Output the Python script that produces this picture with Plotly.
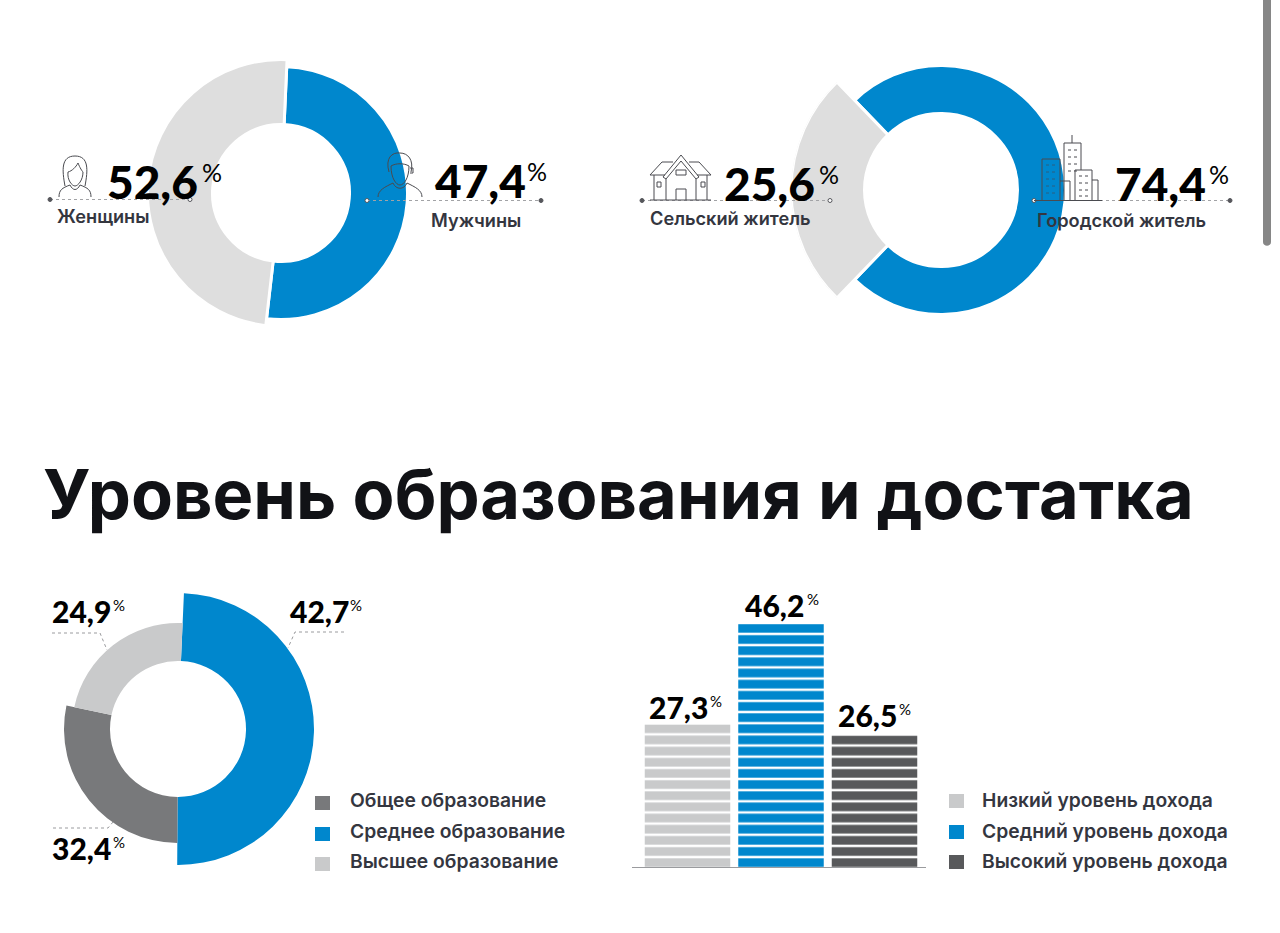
import plotly.graph_objects as go

W, H = 1280, 933
BLUE = "#0087CD"
GREY = "#DEDEDE"
LIGHT = "#C9CACB"
MID = "#78797B"
DARK = "#58595B"
INK = "#34363F"
NUM_FONT = "Lato"

# ---------- data ----------
title_text = "Уровень образования и достатка"

gender_names = ["Мужчины", "Женщины"]
gender_labels = [47.4, 52.6]
gender_arc_share = [51.1, 48.9]
gender_outer = [126.5, 133.5]
gender_inner = [68.5, 68.5]

place_names = ["Городской житель", "Сельский житель"]
place_values = [74.4, 25.6]
place_outer = [124.5, 150]
place_inner = [76.5, 76.5]

edu_names = ["Среднее образование", "Общее образование", "Высшее образование"]
edu_labels = [42.7, 32.4, 24.9]
edu_arc_share = [49.4, 28.2, 22.4]
edu_outer = [136, 114, 106]
edu_inner = [68, 68, 68]

income_names = ["Низкий уровень дохода", "Средний уровень дохода", "Высокий уровень дохода"]
income_labels = [27.3, 46.2, 26.5]
income_drawn = [27.1, 46.2, 25.0]


def fmt(v):
    return f"{v:.1f}".replace(".", ",")


def centres(shares, start):
    out, widths, a = [], [], start
    for s in shares:
        w = s * 3.6
        out.append(a + w / 2)
        widths.append(w)
        a += w
    return out, widths


fig = go.Figure()
# empty trace that brings the pixel-coordinate overlay axes into being
fig.add_trace(go.Scatter(x=[], y=[], xaxis="x2", yaxis="y2", showlegend=False))


def donut(key, outer, inner, shares, start, colors, names, gap):
    th, wd = centres(shares, start)
    fig.add_trace(go.Barpolar(
        subplot=key,
        r=[o - i for o, i in zip(outer, inner)],
        base=inner,
        theta=th,
        width=wd,
        text=names,
        showlegend=False,
        marker=dict(color=colors, line=dict(color="white", width=gap)),
    ))


donut("polar", gender_outer, gender_inner, gender_arc_share, 2.6, [BLUE, GREY], gender_names, 3)
donut("polar2", place_outer, place_inner, place_values, 90 - place_values[0] * 1.8, [BLUE, GREY], place_names, 3)
donut("polar3", edu_outer, edu_inner, edu_arc_share, 2.5, [BLUE, MID, LIGHT], edu_names, 0)

fig.add_trace(go.Bar(
    x=[0, 1, 2],
    y=income_drawn,
    width=85.5 / 93.5,
    text=income_names,
    textposition="none",
    showlegend=False,
    marker=dict(
        color=[LIGHT, BLUE, DARK],
        line=dict(width=0),
        pattern=dict(shape="-", size=11.157, solidity=0.78, fgcolor=[LIGHT, BLUE, DARK],
                     bgcolor="white", fillmode="replace"),
    ),
))


def polar_layout(cx, cy, R=150):
    return dict(
        domain=dict(x=[(cx - R) / W, (cx + R) / W], y=[1 - (cy + R) / H, 1 - (cy - R) / H]),
        bgcolor="rgba(0,0,0,0)",
        angularaxis=dict(visible=False, direction="clockwise", rotation=90),
        radialaxis=dict(visible=False, range=[0, R]),
    )


annotations = []
shapes = []


def text(x, y, s, size, color="#000000", weight=400, family="Inter", anchor="left"):
    annotations.append(dict(
        x=x, y=y, xref="x2", yref="y2", text=s, showarrow=False, xanchor=anchor, yanchor="middle",
        borderpad=0, font=dict(size=size, color=color, family=family, weight=weight, shadow="none"),
    ))


def path(d, color="#4A4B50", width=1, fill=None, dash=None):
    shapes.append(dict(
        type="path", xref="x2", yref="y2", path=d, layer="above",
        line=dict(color=color, width=width, dash=dash) if width else dict(width=0),
        fillcolor=fill if fill else "rgba(0,0,0,0)",
    ))


def dot(x, y, r, filled=True):
    shapes.append(dict(
        type="circle", xref="x2", yref="y2", x0=x - r, x1=x + r, y0=y - r, y1=y + r, layer="above",
        line=dict(color="#55565B", width=1), fillcolor="#55565B" if filled else "white",
    ))


def big(x, y, v, pct_x, size=46, pct_size=25):
    text(x, y, fmt(v), size, weight=900, family=NUM_FONT)
    text(pct_x, y - 9, "%", pct_size, weight=400, family=NUM_FONT)


def mid(x, y, v, pct_x, size=30, pct_size=15):
    text(x, y, fmt(v), size, weight=900, family=NUM_FONT)
    text(pct_x, y - 6, "%", pct_size, weight=400, family=NUM_FONT)


# heading
text(42, 494, title_text, 68.5, color="#111216", weight=700)

# top numbers
big(106, 181, gender_labels[1], 201)
big(434, 180, gender_labels[0], 526)
big(723, 183, place_values[1], 818)
big(1114, 183, place_values[0], 1208)

# top captions
text(56, 216, gender_names[1], 18.2, INK, 600)
text(430, 220, gender_names[0], 18.2, INK, 600)
text(649, 218, place_names[1], 18.2, INK, 600)
text(1036, 220, place_names[0], 18.2, INK, 600)

# dotted rules
for x0, x1, y in [(50, 190, 199.5), (367, 541, 200.5), (642, 830, 200.5), (1034, 1230, 200.5)]:
    path(f"M{x0} {y} L{x1} {y}", color="#A2A3A6", width=1, dash="dot")
    dot(x0, y, 2, True if x0 in (50, 642) else False)
    dot(x1, y, 2, True if x1 in (541, 1230) else False)

# woman icon
path("M65 186 C62 170 61 156 75 156 C89 156 88 170 85 186")
path("M68 172 C72 171 76 167 78 163 C80 168 82 171 83 172 C83 180 78 186 75 186 C72 186 67 180 68 172")
path("M59 197 C59 190 62 188 70 185 C73 191 77 191 80 185 C88 188 91 190 91 197")
# man icon
path("M389 172 C385 158 392 152 400 153 C408 153 414 160 411 172")
path("M391 166 C391 178 396 185 400 185 C404 185 409 178 409 166 C404 163 396 163 391 166")
path("M378 197 C378 190 385 187 393 183 C396 190 404 190 407 183 C415 187 422 190 422 197")
path("M410 168 L413 168 L413 173 L410 173")
# house icon
path("M650 175 L662 162 L673 162 M689 162 L699 162 L711 175 L697 175 M665 175 L650 175")
path("M663 177 L681 155 L699 177 L696 179 L681 161 L666 179 Z")
path("M654 175 V200 M707 175 V200 M666 179 V200 M696 179 V200 M650 200 H711")
path("M676 200 V189 H686 V200 M676 170 H686 V175 H676 Z M657 182 H661 V187 H657 Z M701 182 H705 V187 H701 Z")
# city icon
path("M1072 143 V135 M1064 200 V143 H1081 V170 M1042 200 V159 H1060 V200 M1060 181 H1070 V200")
path("M1075 200 V170 H1092 V200 M1092 180 H1098 V200 M1034 200.5 H1102")
for wy in (150, 157, 164, 171):
    path(f"M1068 {wy} H1071 M1074 {wy} H1077", width=1)
for wy in (176, 183, 190, 196):
    path(f"M1079 {wy} H1082 M1085 {wy} H1088", width=1)
for wy in (165, 172, 179, 186, 193):
    path(f"M1046 {wy} H1049 M1052 {wy} H1055", color="#2B5F80", width=1)

# education labels and leaders
mid(51, 611, edu_labels[2], 112)
mid(289, 611, edu_labels[0], 349)
mid(51, 848, edu_labels[1], 112)
path("M52 633 H100 L107 650", color="#9A9B9E", dash="dot")
path("M344 632 H295 L288 648", color="#9A9B9E", dash="dot")
path("M53 828 H108 L113 822", color="#9A9B9E", dash="dot")

# income labels
mid(648, 707, income_labels[0], 709)
mid(744, 605, income_labels[1], 806)
mid(837, 715, income_labels[2], 898)

# legends
for (name, col), y in zip([(edu_names[1], MID), (edu_names[0], BLUE), (edu_names[2], LIGHT)], (800, 831, 861)):
    shapes.append(dict(type="rect", xref="x2", yref="y2", x0=315, x1=330, y0=y - 4, y1=y + 10,
                       layer="above", line=dict(width=0), fillcolor=col))
    text(349, y, name, 19.3, INK, 600)
for name, col, y in zip(income_names, [LIGHT, BLUE, DARK], (800, 831, 861)):
    shapes.append(dict(type="rect", xref="x2", yref="y2", x0=949, x1=964, y0=y - 6, y1=y + 8,
                       layer="above", line=dict(width=0), fillcolor=col))
    text(981, y, name, 19.3, INK, 600)

# window scrollbar seen in the screenshot
path("M1263 -5 H1271 V242 C1271 247 1263 247 1263 242 Z", width=0, fill="#868686")

bx0, bx1 = 632, 926
bar_bottom = 867
bar_top_px = 600.46
px_per_unit = 243 / 46.2
fig.update_layout(
    width=W, height=H, margin=dict(l=0, r=0, t=0, b=0, pad=0), autosize=False,
    paper_bgcolor="white", plot_bgcolor="rgba(0,0,0,0)",
    font=dict(family="Inter"), showlegend=False, barmode="overlay",
    polar=polar_layout(281, 193), polar2=polar_layout(941, 190), polar3=polar_layout(178, 729),
    xaxis=dict(domain=[bx0 / W, bx1 / W], range=[(bx0 - 687.5) / 93.5, (bx1 - 687.5) / 93.5],
               showgrid=False, zeroline=False, showticklabels=False, ticks="",
               showline=True, linecolor="#9A9B9E", linewidth=1, anchor="y"),
    yaxis=dict(domain=[1 - bar_bottom / H, 1 - bar_top_px / H], range=[0, (bar_bottom - bar_top_px) / px_per_unit],
               visible=False, anchor="x"),
    xaxis2=dict(domain=[0, 1], range=[0, W], visible=False, anchor="y2"),
    yaxis2=dict(domain=[0, 1], range=[H, 0], visible=False, anchor="x2"),
    annotations=annotations, shapes=shapes,
)

fig.write_html("out.html", config={"displayModeBar": False},
               post_script="document.body.style.margin='0';document.body.style.overflow='hidden';")
